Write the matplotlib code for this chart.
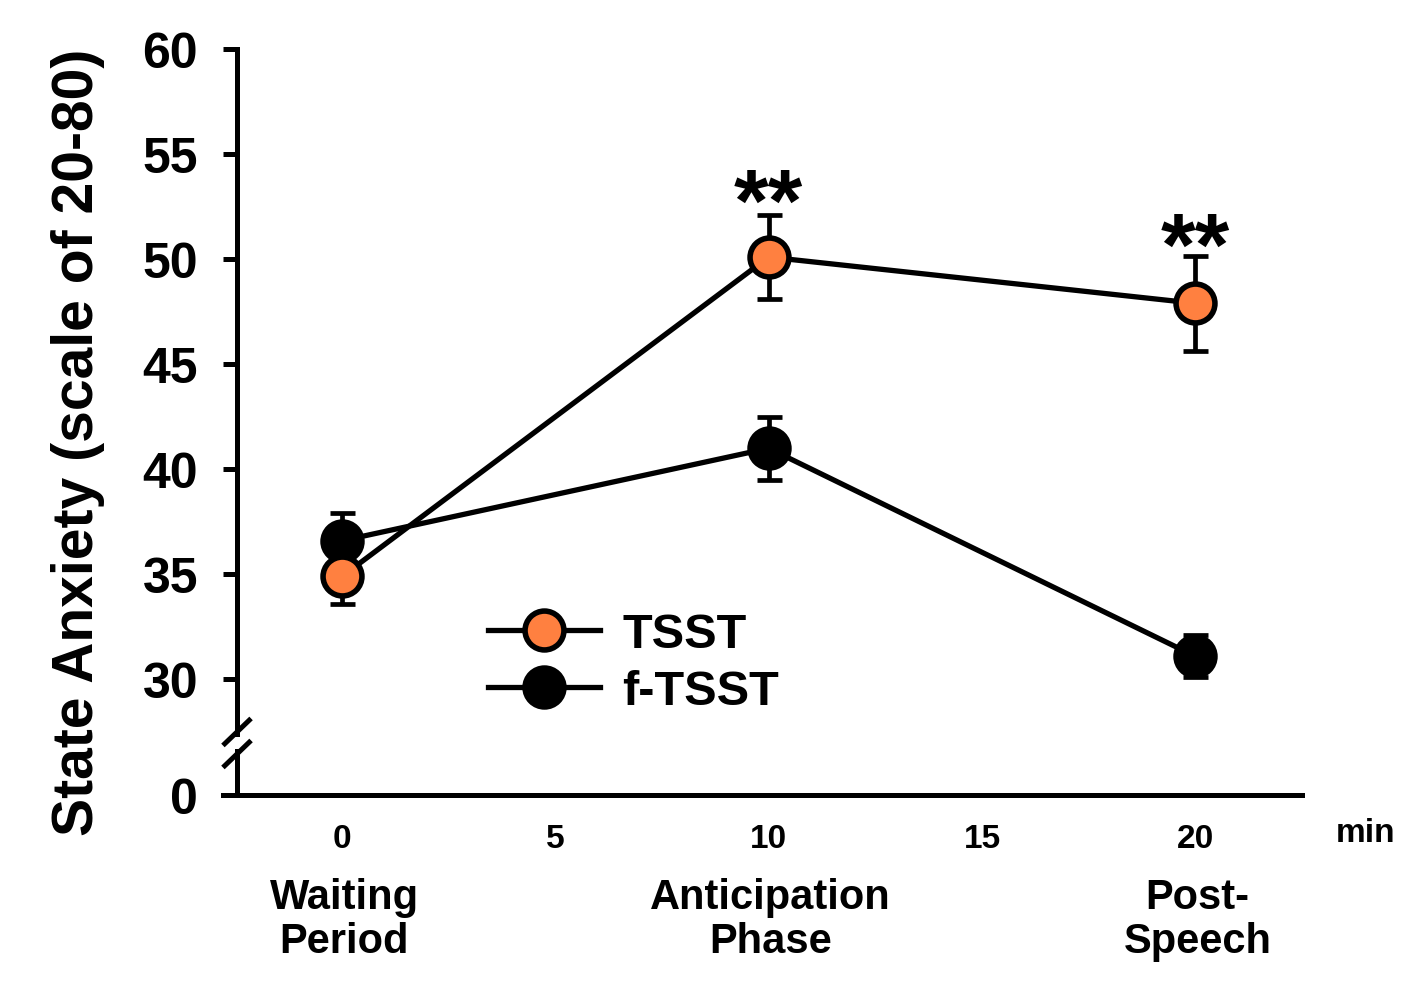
import matplotlib
matplotlib.use('Agg')
import matplotlib.pyplot as plt

plt.rcParams['font.family'] = ['Liberation Sans', 'DejaVu Sans']
plt.rcParams['font.weight'] = 'bold'

# data
minutes = [0, 10, 20]
tsst = [34.9, 50.1, 47.9]
tsst_err = [1.3, 2.0, 2.25]
ftsst = [36.6, 41.0, 31.1]
ftsst_err = [1.3, 1.5, 1.0]
phase_labels = ['Waiting\nPeriod', 'Anticipation\nPhase', 'Post-\nSpeech']
star_x = [10, 20]
star_y = [51.4, 49.3]
x_ticks = [0, 5, 10, 15, 20]
y_ticks = [24.5, 30, 35, 40, 45, 50, 55, 60]
y_ticklabels = ['0', '30', '35', '40', '45', '50', '55', '60']

orange = '#FF8040'

fig = plt.figure(figsize=(14.04, 9.95), dpi=100)
ax = fig.add_axes([0.1688, 0.2, 0.7586, 0.7497])

lw = 3.8
# f-TSST first so TSST sits on top
ax.errorbar(minutes, ftsst, yerr=ftsst_err, fmt='none', ecolor='black',
            elinewidth=3.4, capsize=9, capthick=3.4, zorder=2)
l2, = ax.plot(minutes, ftsst, '-o', color='black', lw=lw, ms=28,
              mfc='black', mec='black', mew=4, zorder=3, label='f-TSST')
ax.errorbar(minutes, tsst, yerr=tsst_err, fmt='none', ecolor='black',
            elinewidth=3.4, capsize=9, capthick=3.4, zorder=4)
l1, = ax.plot(minutes, tsst, '-o', color='black', lw=lw, ms=28,
              mfc=orange, mec='black', mew=4, zorder=5, label='TSST')

for x, y in zip(star_x, star_y):
    ax.text(x, y, '**', ha='center', va='baseline', fontsize=64,
            fontweight='bold')

ax.set_xlim(-2.46, 22.5)
ax.set_ylim(24.5, 60)
ax.set_xticks(x_ticks)
ax.set_xticklabels([str(t) for t in x_ticks], fontsize=24, fontweight='bold')
ax.set_yticks(y_ticks)
ax.set_yticklabels(y_ticklabels, fontsize=36, fontweight='bold')
ax.tick_params(axis='x', length=0, pad=20)
ax.tick_params(axis='y', length=10, width=3.6, pad=18)

for s in ['top', 'right']:
    ax.spines[s].set_visible(False)
for s in ['left', 'bottom']:
    ax.spines[s].set_linewidth(3.6)
ax.spines['bottom'].set_bounds(-2.46 - 0.33, 22.5)

ax.set_ylabel('State Anxiety (scale of 20-80)', fontsize=41,
              fontweight='bold')
ax.yaxis.set_label_coords(-0.124, 0.474)

# axis break
ax.plot([0, 0], [0.0775, 0.062], transform=ax.transAxes, color='white',
        lw=6, clip_on=False, zorder=6, solid_capstyle='butt')
for cy in [0.0845, 0.055]:
    ax.plot([-0.0132, 0.0132], [cy - 0.0181, cy + 0.0181],
            transform=ax.transAxes, color='black', lw=3.6,
            clip_on=False, zorder=7, solid_capstyle='butt')

# phase labels under the axis
for x, lab in zip(minutes, phase_labels):
    ax.text(x + 0.05, -0.11, lab, transform=ax.get_xaxis_transform(),
            ha='center', va='top', fontsize=30, fontweight='bold',
            linespacing=1.12)
ax.text(1.06, -0.03, 'min', transform=ax.transAxes, ha='center', va='top',
        fontsize=24, fontweight='bold')

ax.legend(handles=[l1, l2], loc='upper left', bbox_to_anchor=(0.236, 0.245),
          frameon=False, handlelength=2.3, handletextpad=0.45,
          labelspacing=0.25, borderpad=0, borderaxespad=0,
          prop={'weight': 'bold', 'size': 35})

fig.savefig('out.png', dpi=100)
